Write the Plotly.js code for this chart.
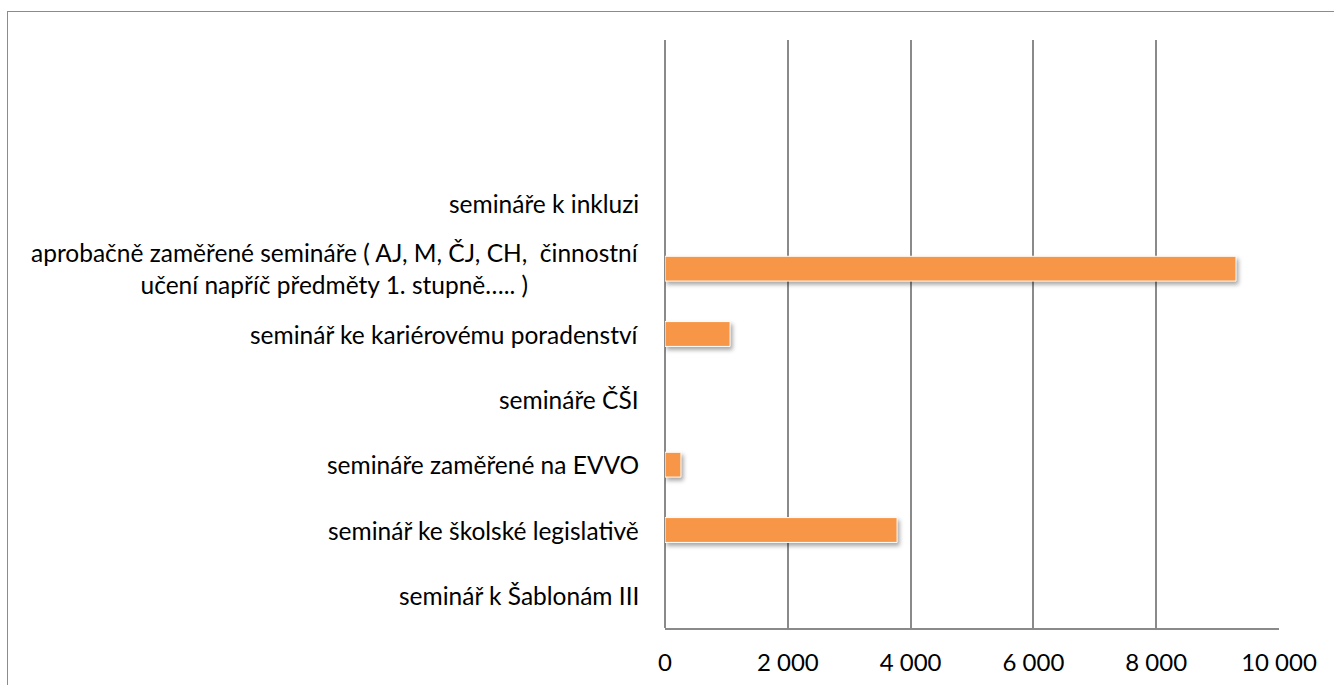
<!DOCTYPE html>
<html>
<head>
<meta charset="utf-8">
<script src="https://cdn.plot.ly/plotly-3.0.1.min.js"></script>
<style>
  html, body { margin:0; padding:0; background:#fff; }
  #frame { position:absolute; left:7px; top:11px; width:1340px; height:700px; border:1px solid #8c8c8c; box-sizing:border-box; pointer-events:none; z-index:5; }
  #chart { width:1334px; height:685px; }
  .bars .point path { filter: drop-shadow(2px 3px 2px rgba(0,0,0,0.35)); }
</style>
</head>
<body>
<div id="frame"></div>
<div id="chart"></div>
<script>
// Data (bottom to top)
const categories = [
  "seminář k Šablonám III",
  "seminář ke školské legislativě",
  "semináře zaměřené na EVVO",
  "semináře ČŠI",
  "seminář ke kariérovému poradenství",
  "aprobačně zaměřené semináře ( AJ, M, ČJ, CH,  činnostní<br>učení napříč předměty 1. stupně….. )",
  "semináře k inkluzi",
  " ",
  "  "
];
const values = [0, 3780, 260, 0, 1060, 9300, 0, null, null];
const xTickVals = [0, 2000, 4000, 6000, 8000, 10000];

const FONT = 'Lato, "Open Sans", sans-serif';

const trace = {
  type: 'bar',
  orientation: 'h',
  y: categories,
  x: values,
  width: 0.38,
  marker: {
    color: '#F79646',
    line: { color: '#ffffff', width: values.map(v => (v ? 1 : 0)) }
  },
  hoverinfo: 'none'
};

const annotations = categories.map((c) => ({
  x: 0, xref: 'x', y: c, yref: 'y',
  text: c, showarrow: false,
  xanchor: 'right', yanchor: 'middle', align: 'center',
  xshift: -24,
  font: { family: FONT, size: 24.5, color: '#000' }
}));

const layout = {
  width: 1334, height: 685,
  margin: { l: 665, r: 55, t: 40, b: 57 },
  paper_bgcolor: '#fff', plot_bgcolor: '#fff',
  separators: ', ',
  showlegend: false,
  xaxis: {
    range: [0, 10000],
    tickvals: xTickVals,
    tickformat: ',d',
    showgrid: true, gridcolor: '#8a8a8a', gridwidth: 2,
    zeroline: true, zerolinecolor: '#8a8a8a', zerolinewidth: 2,
    showline: true, linecolor: '#8a8a8a', linewidth: 2,
    ticks: '', ticklabelstandoff: 12,
    tickfont: { family: FONT, size: 24, color: '#000' },
    fixedrange: true
  },
  yaxis: {
    type: 'category',
    categoryorder: 'array', categoryarray: categories,
    range: [-0.5, 8.5],
    showticklabels: false, showgrid: false, zeroline: false,
    showline: false, ticks: '',
    fixedrange: true
  },
  annotations: annotations
};

Plotly.newPlot('chart', [trace], layout, { displayModeBar: false, staticPlot: true });
</script>
</body>
</html>
